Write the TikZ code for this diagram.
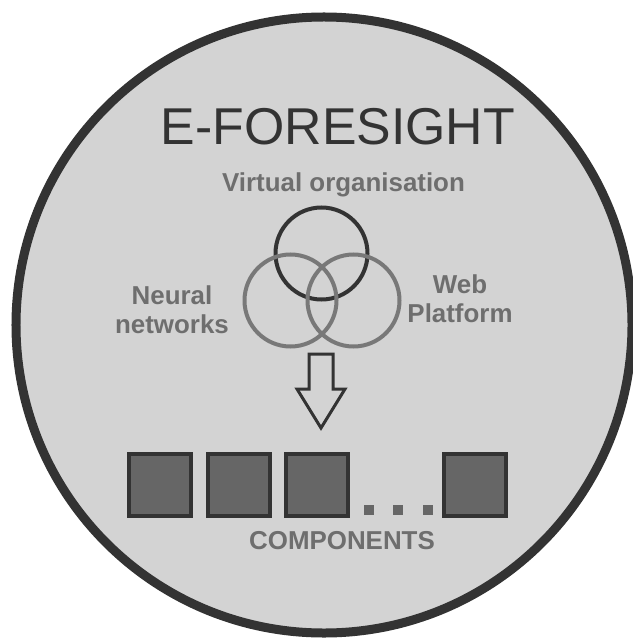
\documentclass[tikz,border=0pt]{standalone}
\usepackage{fontspec}
\setmainfont{Liberation Sans}
\usepackage{tikz}
\usetikzlibrary{shapes.geometric, arrows}
\definecolor{disc}{HTML}{D3D3D3}
\definecolor{ink}{HTML}{333333}
\definecolor{label}{HTML}{6E6E6E}
\definecolor{ring}{HTML}{787878}
\definecolor{block}{HTML}{666666}
\tikzstyle{frame} = [circle, draw=ink, fill=disc, line width=9bp, minimum size=616bp, inner sep=0pt]
\tikzstyle{venn} = [circle, draw=ring, line width=4bp, minimum size=92bp, inner sep=0pt]
\tikzstyle{tag} = [text=label, font=\fontsize{26}{29}\selectfont\bfseries, align=center, inner sep=0pt]
\tikzstyle{comp} = [rectangle, draw=ink, fill=block, line width=4bp, minimum size=62bp, inner sep=0pt]
\tikzstyle{dot} = [rectangle, fill=block, minimum size=10bp, inner sep=0pt]

\begin{document}
\begin{tikzpicture}[x=1bp, y=-1bp, node distance=78.5bp]
  \useasboundingbox (0,0) rectangle (633,638);
  \node (disk) [frame] at (324,325) {};

  \node (title) [anchor=base, text=ink, font=\fontsize{52}{60}\selectfont, inner sep=0pt] at (338,145) {E-FORESIGHT};

  \node (vo) [venn, draw=ink] at (321.5,253.5) {};
  \node (nn) [venn] at (290.5,300.5) {};
  \node (wp) [venn] at (353.5,300.5) {};

  \node (vol) [tag, anchor=base] at (343.5,191.7) {Virtual organisation};
  \node (nnl) [tag] at (172,309.5) {Neural\\networks};
  \node (wpl) [tag] at (460,299) {Web\\Platform};

  % hollow block arrow
  \draw [ink, line width=3bp, line join=miter]
    (309,354) -- (333,354) -- (333,389) -- (345,389) -- (321,428)
    -- (297,389) -- (309,389) -- cycle;

  \node (c1) [comp] at (160,485) {};
  \node (c2) [comp, right of=c1] {};
  \node (c3) [comp, right of=c2] {};
  \node (c4) [comp, right of=c3, node distance=158bp] {};

  \node (d1) [dot] at (368.5,509.5) {};
  \node (d2) [dot, right of=d1, node distance=29.5bp] {};
  \node (d3) [dot, right of=d2, node distance=29.5bp] {};

  \node (comps) [tag, anchor=base] at (342,549) {COMPONENTS};
\end{tikzpicture}
\end{document}
